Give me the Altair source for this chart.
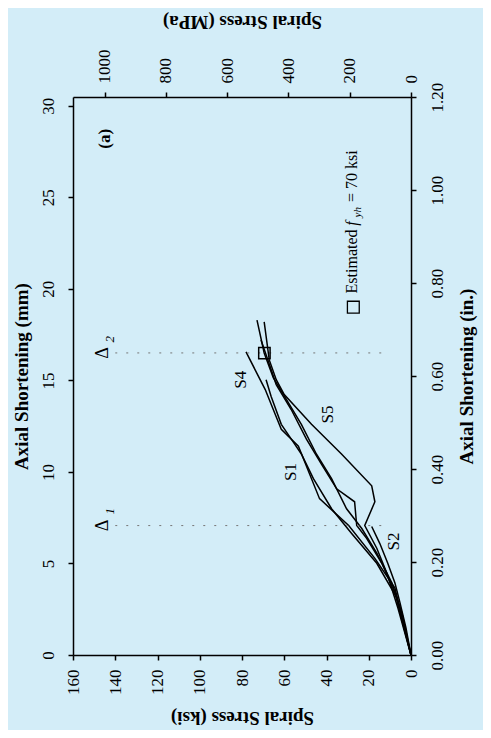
import altair as alt
import pandas as pd

# ---- data (stress in ksi, axial shortening in mm) ----
s1_ksi = [72.9, 69.5, 65.2, 59.0, 51.9, 44.8, 37.6, 30.5, 23.3, 16.2, 9.0, 4.3, 0]
s1_mm = [18.29, 16.50, 15.15, 13.96, 12.60, 10.98, 9.63, 7.99, 6.91, 5.56, 3.93, 2.30, 0]

s2_ksi = [18.6, 14.8, 11.0, 7.6, 5.2, 2.4, 0]
s2_mm = [7.02, 6.10, 5.01, 3.93, 2.85, 1.49, 0]

s3_ksi = [71.0, 68.6, 63.8, 56.7, 49.5, 42.4, 35.2, 26.7, 25.7, 21.0, 13.8, 7.6, 0]
s3_mm = [17.21, 16.40, 14.77, 13.41, 11.79, 10.43, 9.08, 8.37, 7.07, 6.37, 5.01, 3.39, 0]

s4_ksi = [78.1, 73.3, 69.0, 65.2, 61.4, 53.3, 43.3, 29.5, 17.1, 7.6, 0]
s4_mm = [16.56, 15.47, 14.50, 13.41, 12.33, 11.41, 8.54, 7.07, 5.28, 3.66, 0]

s5_ksi = [69.5, 67.1, 63.8, 60.0, 47.1, 32.9, 18.6, 17.1, 21.9, 16.2, 11.4, 6.2, 0]
s5_mm = [18.20, 16.12, 15.04, 14.23, 12.60, 10.98, 9.24, 8.37, 7.07, 5.83, 4.47, 2.57, 0]

s6_ksi = [68.6, 66.2, 61.4, 55.7, 51.9, 46.2, 37.6, 28.1, 16.2, 6.7, 0]
s6_mm = [15.04, 14.12, 12.60, 11.63, 10.98, 9.63, 7.99, 6.64, 5.01, 3.12, 0]

series = {"S1": (s1_ksi, s1_mm), "S2": (s2_ksi, s2_mm), "S3": (s3_ksi, s3_mm),
          "S4": (s4_ksi, s4_mm), "S5": (s5_ksi, s5_mm), "S6": (s6_ksi, s6_mm)}

curve_labels = ["S4", "S5", "S1", "S2"]
curve_label_ksi = [80.5, 39.2, 56.7, 8.2]
curve_label_mm = [15.04, 13.14, 10.0, 6.2]

delta_mm = [16.5, 7.07]
delta_from_ksi = [140, 140]
delta_to_ksi = [10, 10]

fyh_ksi = [69.4]
fyh_mm = [16.49]

ksi_ticks = [0, 20, 40, 60, 80, 100, 120, 140, 160]
mm_ticks = [0, 5, 10, 15, 20, 25, 30]
mpa_ticks = [0, 200, 400, 600, 800, 1000]
in_ticks = [0, 0.2, 0.4, 0.6, 0.8, 1.0, 1.2]

FONT = "Liberation Serif"
BG = "#d3edf8"

rows = []
for name, (xs, ys) in series.items():
    for i, (a, b) in enumerate(zip(xs, ys)):
        rows.append({"series": name, "i": i, "ksi": a, "mm": b})
curves = pd.DataFrame(rows)

xscale = alt.Scale(domain=[0, 160], reverse=True, nice=False, zero=False)
yscale = alt.Scale(domain=[0, 30.48], nice=False, zero=False)

common_axis = dict(domainColor="black", tickColor="black", domainWidth=1.5, tickWidth=1.5,
                   tickSize=5, labelFont=FONT, labelFontSize=17, labelColor="black",
                   titleFont=FONT, titleFontSize=19, titleFontWeight="bold", titleColor="black",
                   grid=False)

x_axis = alt.Axis(values=ksi_ticks, title="Spiral Stress (ksi)", labelAngle=270, labelAlign="right",
                  labelBaseline="middle", labelPadding=9, titleAngle=180, titleX=169, titleY=62,
                  titleAlign="center", titleBaseline="middle", **common_axis)
y_axis = alt.Axis(values=mm_ticks, title="Axial Shortening (mm)", labelAngle=270, labelAlign="center",
                  labelBaseline="bottom", labelPadding=11, titleAngle=270, titleX=-52, titleY=279,
                  titleAlign="center", titleBaseline="middle", **common_axis)

lines = alt.Chart(curves).mark_line(color="black", strokeWidth=1.5).encode(
    x=alt.X("ksi:Q", scale=xscale, axis=x_axis),
    y=alt.Y("mm:Q", scale=yscale, axis=y_axis),
    detail="series:N",
    order="i:Q",
)

dl = pd.DataFrame({"mm": delta_mm, "k1": delta_from_ksi, "k2": delta_to_ksi})
delta_lines = alt.Chart(dl).mark_rule(color="#777", strokeWidth=1, strokeDash=[2, 9]).encode(
    x=alt.X("k1:Q", scale=xscale), x2="k2:Q", y=alt.Y("mm:Q", scale=yscale))

sq = pd.DataFrame({"ksi": fyh_ksi, "mm": fyh_mm})
square = alt.Chart(sq).mark_point(shape="square", size=130, filled=False, color="black",
                                  strokeWidth=1.5, opacity=1).encode(
    x=alt.X("ksi:Q", scale=xscale), y=alt.Y("mm:Q", scale=yscale))

lab = pd.DataFrame({"t": curve_labels, "ksi": curve_label_ksi, "mm": curve_label_mm})
labels = alt.Chart(lab).mark_text(font=FONT, fontSize=17, angle=270, color="black").encode(
    x=alt.X("ksi:Q", scale=xscale), y=alt.Y("mm:Q", scale=yscale), text="t:N")

ann = pd.DataFrame({
    "t": ["Δ", "Δ", "2", "1", "(a)"],
    "ksi": [145.7, 145.7, 142.4, 142.4, 144.8],
    "mm": [16.5, 7.07, 17.25, 7.85, 28.2],
    "sz": [18, 18, 13, 13, 17],
    "w": ["normal", "normal", "normal", "normal", "bold"],
    "st": ["normal", "normal", "italic", "italic", "normal"],
})
anns = []
for _, r in ann.iterrows():
    anns.append(alt.Chart(pd.DataFrame([r])).mark_text(
        font=FONT, fontSize=int(r["sz"]), fontWeight=r["w"], fontStyle=r["st"], angle=270,
        color="black").encode(x=alt.X("ksi:Q", scale=xscale), y=alt.Y("mm:Q", scale=yscale), text="t:N"))

leg_sq = pd.DataFrame({"ksi": [27.3], "mm": [19.0]})
legend_square = alt.Chart(leg_sq).mark_point(shape="square", size=140, filled=False, color="black",
                                             strokeWidth=1.3, opacity=1).encode(
    x=alt.X("ksi:Q", scale=xscale), y=alt.Y("mm:Q", scale=yscale))

leg = [
    ("Estimated", 27.8, 19.75, 16, "normal"),
    ("f", 27.8, 23.45, 16, "italic"),
    ("yh", 25.0, 23.9, 11, "italic"),
    ("= 70 ksi", 27.8, 24.75, 16, "normal"),
]
leg_marks = []
for t, k, m, s, st in leg:
    leg_marks.append(alt.Chart(pd.DataFrame({"t": [t], "ksi": [k], "mm": [m]})).mark_text(
        font=FONT, fontSize=s, fontStyle=st, angle=270, align="left", baseline="middle",
        color="black").encode(x=alt.X("ksi:Q", scale=xscale), y=alt.Y("mm:Q", scale=yscale), text="t:N"))

sec = pd.DataFrame({"mpa": [0, 1000], "inch": [0, 1.2]})
secondary = alt.Chart(sec).mark_point(opacity=0).encode(
    x=alt.X("mpa:Q", scale=alt.Scale(domain=[0, 1103.2], reverse=True, nice=False, zero=False),
            axis=alt.Axis(orient="top", values=mpa_ticks, format="d", title="Spiral Stress (MPa)",
                          labelAngle=270, labelAlign="left", labelBaseline="middle", labelPadding=9,
                          titleAngle=180, titleX=169, titleY=-76, titleAlign="center",
                          titleBaseline="middle", **common_axis)),
    y=alt.Y("inch:Q", scale=alt.Scale(domain=[0, 1.2], nice=False, zero=False),
            axis=alt.Axis(orient="right", values=in_ticks, format=".2f", title="Axial Shortening (in.)",
                          labelAngle=270, labelAlign="center", labelBaseline="top", labelPadding=13,
                          titleAngle=270, titleX=55, titleY=279, titleAlign="center",
                          titleBaseline="middle", **common_axis)),
)

main = alt.layer(lines, delta_lines, square, labels, legend_square, *anns, *leg_marks)
chart = alt.layer(main, secondary).resolve_scale(x="independent", y="independent").properties(
    width=338, height=558, autosize="none",
    padding={"left": 65, "top": 89, "right": 72, "bottom": 75},
    background=BG,
).configure_view(stroke=None)

chart.save("out.html", embed_options={"renderer": "svg", "actions": False})
